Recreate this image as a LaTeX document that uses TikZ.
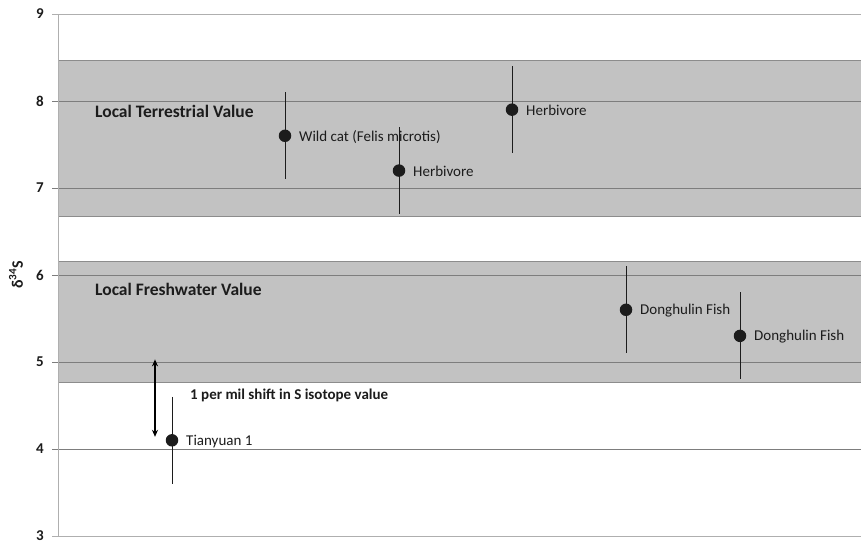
\documentclass[tikz,border=0pt]{standalone}
\usepackage{fontspec}
\setmainfont{Carlito}
\usetikzlibrary{arrows.meta}
\definecolor{boxfill}{RGB}{194,194,194}
\definecolor{boxedge}{RGB}{140,140,140}
\definecolor{gridc}{RGB}{125,125,125}
\definecolor{axisc}{RGB}{175,175,175}
\definecolor{ptc}{RGB}{28,28,28}
\tikzset{
  bandedge/.style={draw=boxedge, line width=0.9pt},
  gridline/.style={draw=gridc, line width=0.7pt},
  axisline/.style={draw=axisc, line width=0.9pt},
  ticklabel/.style={font=\fontsize{15}{17}\selectfont\bfseries, anchor=east, inner sep=0pt, text=ptc},
  pt/.style={circle, fill=ptc, minimum size=12.5pt, inner sep=0pt},
  errbar/.style={draw=ptc, line width=0.8pt},
  ptlabel/.style={font=\fontsize{15}{17}\selectfont, anchor=west, inner sep=0pt, text=ptc},
  bandlabel/.style={font=\fontsize{17.5}{20}\selectfont\bfseries, anchor=west, inner sep=0pt, text=ptc},
  shiftarrow/.style={line width=1.6pt, draw=black, {Stealth[length=7pt,width=6pt]}-{Stealth[length=7pt,width=6pt]}}
}
\begin{document}
\begin{tikzpicture}[x=1pt, y=87pt]
\useasboundingbox (0,2.931) rectangle (861,9.161);
\fill[white] (0,2.931) rectangle (861,9.161);
% bands
\fill[boxfill] (58,8.47) rectangle (862,6.67);
\draw[bandedge] (862,8.47) -- (58,8.47) -- (58,6.67) -- (862,6.67);
\fill[boxfill] (58,6.15) rectangle (862,4.77);
\draw[bandedge] (862,6.15) -- (58,6.15) -- (58,4.77) -- (862,4.77);
% grid lines and ticks
\foreach \v in {4,5,6,7,8} {
  \draw[gridline] (52,\v) -- (861,\v);
}
\draw[axisline] (52,9) -- (861,9);
\draw[axisline] (52,3) -- (861,3);
\draw[axisline] (58,3) -- (58,9);
\foreach \v in {3,4,5,6,7,8,9} {
  \node[ticklabel] (t\v) at (44,\v) {\v};
}
\node[font=\fontsize{16}{18}\selectfont\bfseries, rotate=90, inner sep=0pt, text=ptc] (ylab) at (16,6.0) {δ\textsuperscript{34}S};
% band labels
\node[bandlabel] (terr) at (95,7.88) {Local Terrestrial Value};
\node[bandlabel] (fresh) at (95,5.83) {Local Freshwater Value};
% data points
\foreach \n/\x/\y/\t in {wc/285/7.6/{Wild cat (Felis microtis)}, hA/399/7.2/Herbivore, hB/512/7.9/Herbivore, fA/626/5.6/Donghulin Fish, fB/740/5.3/Donghulin Fish, ty/172/4.1/Tianyuan 1} {
  \coordinate (\n top) at (\x,\y+0.5);
  \coordinate (\n bot) at (\x,\y-0.5);
  \draw[errbar] (\n top) -- (\n bot);
  \node[pt] (\n) at (\x,\y) {};
  \node[ptlabel] (\n lab) at (\x+14,\y-0.01) {\t};
}
% shift arrow
\coordinate (sTop) at (155,5.03);
\coordinate (sBot) at (155,4.14);
\draw[shiftarrow] (sTop) -- (sBot);
\node[font=\fontsize{15}{17}\selectfont\bfseries, anchor=west, inner sep=0pt, text=ptc] (shiftlab) at (190,4.62) {1 per mil shift in S isotope value};
\end{tikzpicture}
\end{document}
